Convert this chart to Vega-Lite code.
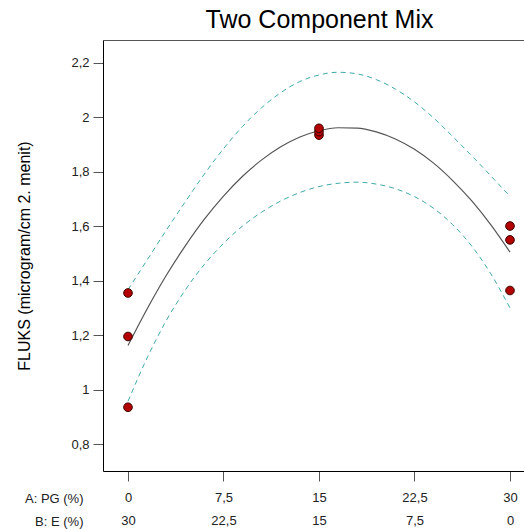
{
  "$schema": "https://vega.github.io/schema/vega-lite/v6.json",
  "width": 421,
  "height": 431,
  "autosize": {"type": "none"},
  "padding": {"left": 103, "top": 40, "right": 0, "bottom": 58},
  "background": "white",
  "title": {"text": "Two Component Mix", "font": "Liberation Sans", "fontSize": 25, "fontWeight": "normal", "color": "black", "anchor": "middle", "baseline": "bottom", "offset": 3, "dx": 6, "dy": 21},
  "config": {
    "view": {"stroke": null},
    "font": "Liberation Sans",
    "axis": {"grid": false}
  },
  "datasets": {
    "fit": [
      {"x": 0, "f": 1.162, "hi": 1.367, "lo": 0.957},
      {"x": 1.5, "f": 1.296, "hi": 1.476, "lo": 1.116},
      {"x": 3, "f": 1.419, "hi": 1.585, "lo": 1.253},
      {"x": 4.5, "f": 1.528, "hi": 1.690, "lo": 1.366},
      {"x": 6, "f": 1.626, "hi": 1.792, "lo": 1.460},
      {"x": 7.5, "f": 1.711, "hi": 1.885, "lo": 1.537},
      {"x": 9, "f": 1.784, "hi": 1.967, "lo": 1.601},
      {"x": 10.5, "f": 1.844, "hi": 2.036, "lo": 1.652},
      {"x": 12, "f": 1.892, "hi": 2.091, "lo": 1.693},
      {"x": 13.5, "f": 1.928, "hi": 2.132, "lo": 1.724},
      {"x": 15, "f": 1.951, "hi": 2.156, "lo": 1.746},
      {"x": 16.5, "f": 1.962, "hi": 2.166, "lo": 1.758},
      {"x": 18, "f": 1.961, "hi": 2.160, "lo": 1.762},
      {"x": 19.5, "f": 1.947, "hi": 2.139, "lo": 1.755},
      {"x": 21, "f": 1.921, "hi": 2.104, "lo": 1.738},
      {"x": 22.5, "f": 1.883, "hi": 2.057, "lo": 1.709},
      {"x": 24, "f": 1.832, "hi": 1.998, "lo": 1.666},
      {"x": 25.5, "f": 1.768, "hi": 1.930, "lo": 1.606},
      {"x": 27, "f": 1.693, "hi": 1.859, "lo": 1.527},
      {"x": 28.5, "f": 1.605, "hi": 1.785, "lo": 1.425},
      {"x": 30, "f": 1.505, "hi": 1.710, "lo": 1.300}
    ],
    "obs": [
      {"x": 0, "y": 1.355},
      {"x": 0, "y": 1.195},
      {"x": 0, "y": 0.935},
      {"x": 15, "y": 1.935},
      {"x": 15, "y": 1.948},
      {"x": 15, "y": 1.960},
      {"x": 30, "y": 1.601},
      {"x": 30, "y": 1.550},
      {"x": 30, "y": 1.364}
    ]
  },
  "layer": [
    {
      "data": {"name": "fit"},
      "mark": {"type": "line", "color": "#555555", "strokeWidth": 1.2, "interpolate": "monotone", "clip": true},
      "encoding": {
        "x": {"field": "x", "type": "quantitative",
          "scale": {"domain": [-1.963, 31.1], "nice": false, "zero": false},
          "axis": {"orient": "bottom", "values": [0, 7.5, 15, 22.5, 30],
            "labelExpr": "[replace(format(datum.value, '.1~f'), '.', ','), replace(format(30 - datum.value, '.1~f'), '.', ',')]",
            "labelFontSize": 13, "labelColor": "#222222", "labelLineHeight": 23, "labelPadding": 10,
            "tickSize": 10, "tickColor": "#555555", "domainColor": "#000000",
            "title": ["A: PG (%)", "B: E (%)"], "titleFontSize": 13, "titleFontWeight": "normal", "titleColor": "#222222",
            "titleAlign": "right", "titleBaseline": "top", "titleX": -20, "titleY": 21, "titleLineHeight": 23, "titleAngle": 0}},
        "y": {"field": "f", "type": "quantitative",
          "scale": {"domain": [0.7008, 2.2845], "nice": false, "zero": false},
          "axis": {"orient": "left", "values": [0.8, 1, 1.2, 1.4, 1.6, 1.8, 2, 2.2],
            "labelExpr": "replace(format(datum.value, '.1~f'), '.', ',')",
            "labelFontSize": 13, "labelColor": "#222222", "labelPadding": 4,
            "tickSize": 10, "tickColor": "#555555", "domainColor": "#000000",
            "title": "FLUKS (microgram/cm 2. menit)", "titleFontSize": 16, "titleFontWeight": "normal", "titleColor": "#000000", "titlePadding": 38}}
      }
    },
    {
      "data": {"name": "fit"},
      "mark": {"type": "line", "color": "#3fa9a9", "strokeWidth": 1, "strokeDash": [5, 4], "interpolate": "monotone", "clip": true},
      "encoding": {
        "x": {"field": "x", "type": "quantitative",
          "scale": {"domain": [-1.963, 31.1], "nice": false, "zero": false},
          "axis": {"orient": "top", "labels": false, "ticks": false, "title": null, "domainColor": "#555555"}},
        "y": {"field": "hi", "type": "quantitative", "scale": {"domain": [0.7008, 2.2845], "nice": false, "zero": false}, "axis": null}
      }
    },
    {
      "data": {"name": "fit"},
      "mark": {"type": "line", "color": "#3fa9a9", "strokeWidth": 1, "strokeDash": [5, 4], "interpolate": "monotone", "clip": true},
      "encoding": {
        "x": {"field": "x", "type": "quantitative", "scale": {"domain": [-1.963, 31.1], "nice": false, "zero": false}, "axis": null},
        "y": {"field": "lo", "type": "quantitative", "scale": {"domain": [0.7008, 2.2845], "nice": false, "zero": false}, "axis": null}
      }
    },
    {
      "data": {"name": "obs"},
      "mark": {"type": "point", "filled": true, "fill": "#b30000", "stroke": "#3a0000", "strokeWidth": 1, "size": 75, "opacity": 1},
      "encoding": {
        "x": {"field": "x", "type": "quantitative", "scale": {"domain": [-1.963, 31.1], "nice": false, "zero": false}, "axis": null},
        "y": {"field": "y", "type": "quantitative", "scale": {"domain": [0.7008, 2.2845], "nice": false, "zero": false}, "axis": null}
      }
    }
  ],
  "resolve": {"axis": {"x": "independent", "y": "independent"}}
}
